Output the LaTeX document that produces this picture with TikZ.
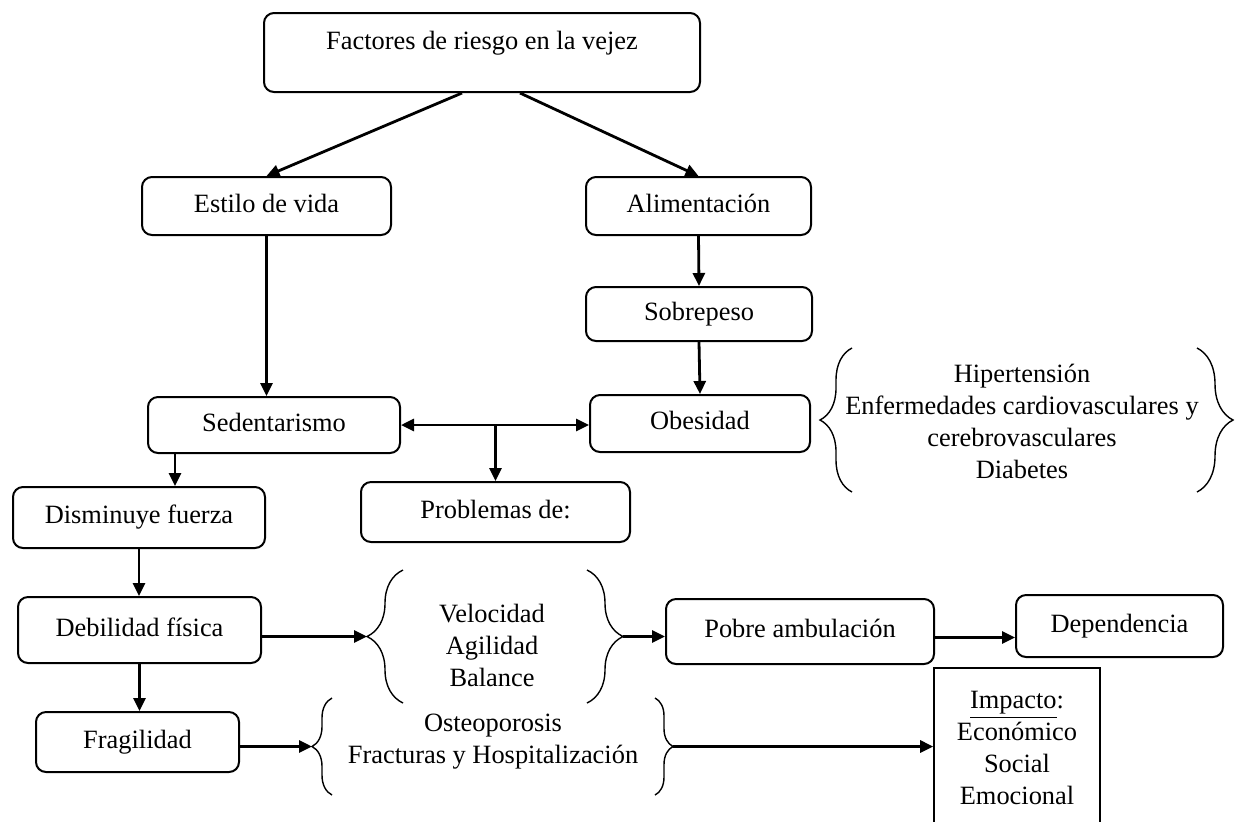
\documentclass[tikz,border=0pt]{standalone}
\usepackage{fontspec}
\setmainfont{Liberation Serif}
\usetikzlibrary{arrows.meta,decorations.pathreplacing}

\begin{document}
\begin{tikzpicture}[x=0.5pt,y=-0.5pt,>={Triangle[length=6.5pt,width=6pt]}]
\tikzstyle{every node}=[inner sep=0pt, align=center, font=\fontsize{13.2}{16}\selectfont]
\tikzstyle{box}=[draw, line width=1pt, rounded corners=5pt, text height=9pt, text depth=3pt]
\tikzstyle{link}=[line width=1.4pt]
\tikzstyle{curly}=[line width=0.7pt, decorate]
\useasboundingbox (0,0) rectangle (1235,821);
% boxes
\draw (482,52.5) node (risk) [box,minimum width=218pt,minimum height=39.5pt,text depth=12.5pt] {Factores de riesgo en la vejez};
\draw (266.5,206) node (estilo) [box,minimum width=124.5pt,minimum height=29pt] {Estilo de vida};
\draw (698.5,206) node (alim) [box,minimum width=112.5pt,minimum height=29pt] {Alimentación};
\draw (699,314) node (sobre) [box,minimum width=113pt,minimum height=27pt] {Sobrepeso};
\draw (700,423.5) node (obes) [box,minimum width=110pt,minimum height=28.5pt] {Obesidad};
\draw (274,425) node (sedent) [box,minimum width=126pt,minimum height=28pt] {Sedentarismo};
\draw (139,517.5) node (dismin) [box,minimum width=126pt,minimum height=30.5pt] {Disminuye fuerza};
\draw (495.5,512) node (probl) [box,minimum width=134.5pt,minimum height=30pt] {Problemas de:};
\draw (139.5,630) node (debil) [box,minimum width=121.5pt,minimum height=33pt] {Debilidad física};
\draw (137.5,742) node (frag) [box,minimum width=101.5pt,minimum height=30pt] {Fragilidad};
\draw (800,631.5) node (pobre) [box,minimum width=134pt,minimum height=32.5pt] {Pobre ambulación};
\draw (1119.5,626) node (depend) [box,minimum width=103.5pt,minimum height=31pt] {Dependencia};
\draw (1017,748) node (impacto) [draw,line width=0.8pt,minimum width=83pt,minimum height=80pt] {\underline{Impacto}:\\Económico\\Social\\Emocional};
% lists between braces
\draw (1022,421) node (hta) {Hipertensión\\Enfermedades cardiovasculares y\\cerebrovasculares\\Diabetes};
\draw (492,645) node (vel) {Velocidad\\Agilidad\\Balance};
\draw (493,741.5) node (frac) {Osteoporosis\\Fracturas y Hospitalización};
\draw[curly,decoration={brace,amplitude=16pt}] (852,492) -- (852,348);
\draw[curly,decoration={brace,amplitude=18pt}] (1197,348) -- (1197,492);
\draw[curly,decoration={brace,amplitude=18pt}] (403,703) -- (403,570);
\draw[curly,decoration={brace,amplitude=18pt}] (587,570) -- (587,703);
\draw[curly,decoration={brace,amplitude=10pt}] (332,795) -- (332,698);
\draw[curly,decoration={brace,amplitude=9pt}] (655,698) -- (655,795);
\coordinate (velL) at (367,636.5);
\coordinate (velR) at (623,636.5);
\coordinate (fracL) at (312,746.5);
\coordinate (fracR) at (673,746.5);
% arrows
\draw[link,->] ([xshift=-10pt]risk.south) -- (estilo.north);
\draw[link,->] ([xshift=19pt]risk.south) -- (alim.north);
\draw[link,->] (alim.south) -- (sobre.north);
\draw[link,->] (sobre.south) -- (obes.north);
\draw[link,->] (estilo.south) -- (estilo.south |- sedent.north);
\draw[link,<->] (sedent.east) -- (sedent.east -| obes.west);
\draw[link,->] (probl.north |- sedent.east) -- (probl.north);
\draw[link,->] ([xshift=14pt]sedent.south west) -- ([xshift=14pt]sedent.south west |- dismin.north);
\draw[link,->] (dismin.south) -- (dismin.south |- debil.north);
\draw[link,->] (debil.south) -- (debil.south |- frag.north);
\draw[link,->] (velL -| debil.east) -- (velL);
\draw[link,->] (velR) -- (velR -| pobre.west);
\draw[link,->] ([yshift=-3pt]pobre.east) -- ([yshift=-3pt]pobre.east -| depend.west);
\draw[link,->] (fracL -| frag.east) -- (fracL);
\draw[link,->] (fracR) -- (fracR -| impacto.west);
\end{tikzpicture}
\end{document}
